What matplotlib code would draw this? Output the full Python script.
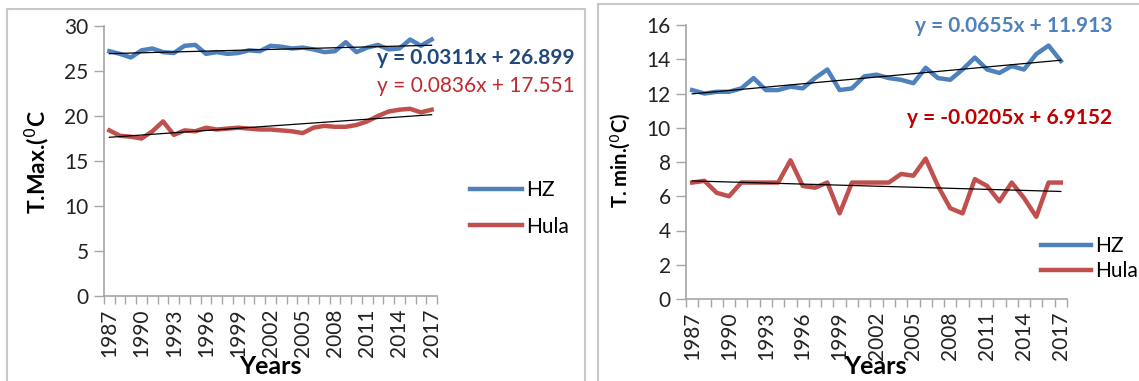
import numpy as np
import matplotlib
matplotlib.use("Agg")
import matplotlib.pyplot as plt
from matplotlib.patches import Rectangle
from matplotlib.lines import Line2D

plt.rcParams['font.family'] = ['Lato', 'DejaVu Sans']

# --- data ---
years = list(range(1987, 2018))

tmax_hz = [27.2, 26.9, 26.5, 27.3, 27.5, 27.1, 27.0, 27.8, 27.9, 26.9,
           27.1, 26.9, 27.0, 27.3, 27.2, 27.8, 27.7, 27.5, 27.6, 27.4,
           27.1, 27.2, 28.2, 27.1, 27.6, 27.9, 27.4, 27.5, 28.5, 27.8, 28.5]
tmax_hula = [18.4, 17.8, 17.7, 17.5, 18.3, 19.4, 17.9, 18.4, 18.3, 18.7,
             18.5, 18.6, 18.7, 18.6, 18.5, 18.5, 18.4, 18.3, 18.1, 18.7,
             18.9, 18.8, 18.8, 19.0, 19.4, 20.0, 20.5, 20.7, 20.8, 20.4, 20.7]

tmin_hz = [12.2, 12.0, 12.1, 12.1, 12.3, 12.9, 12.2, 12.2, 12.4, 12.3,
           12.9, 13.4, 12.2, 12.3, 13.0, 13.1, 12.9, 12.8, 12.6, 13.5,
           12.9, 12.8, 13.4, 14.1, 13.4, 13.2, 13.6, 13.4, 14.3, 14.8, 13.9]
tmin_hula = [6.8, 6.9, 6.2, 6.0, 6.8, 6.8, 6.8, 6.8, 8.1, 6.6,
             6.5, 6.8, 5.0, 6.8, 6.8, 6.8, 6.8, 7.3, 7.2, 8.2,
             6.6, 5.3, 5.0, 7.0, 6.6, 5.7, 6.8, 5.9, 4.8, 6.8, 6.8]

# trend line equations (x = 1..31)
tmax_trend = {'HZ': (0.0311, 26.899), 'Hula': (0.0836, 17.551)}
tmin_trend = {'HZ': (0.0655, 11.913), 'Hula': (-0.0205, 6.9152)}

BLUE = '#4F81BD'
RED = '#C0504D'
AXIS_GRAY = '#A6A6A6'
FS = 15

fig = plt.figure(figsize=(11.39, 3.81), dpi=100)

# chart frames
fig.patches.append(Rectangle((7 / 1139, -0.1), (585 - 7) / 1139, 1.1 - 9 / 381,
                             transform=fig.transFigure, fill=False,
                             edgecolor='#C8C8C8', lw=1.5))
fig.patches.append(Rectangle((598 / 1139, -0.1), 0.6, 1.1 - 4 / 381,
                             transform=fig.transFigure, fill=False,
                             edgecolor='#C8C8C8', lw=1.5))


def style_axes(ax, ymax, ystep):
    x = np.arange(len(years))
    ax.set_xlim(-0.5, len(years) - 0.5)
    ax.set_ylim(0, ymax)
    ax.set_yticks(np.arange(0, ymax + 0.01, ystep))
    ax.set_xticks(x[::3])
    ax.set_xticklabels([str(y) for y in years[::3]], rotation=90)
    ax.set_xticks(np.arange(-0.5, len(years)), minor=True)
    ax.tick_params(axis='x', which='major', length=0, pad=9, labelsize=FS,
                   colors='#222222')
    ax.tick_params(axis='x', which='minor', length=6, width=1,
                   color=AXIS_GRAY, direction='out')
    ax.tick_params(axis='y', length=7, width=1, color=AXIS_GRAY,
                   labelsize=FS, labelcolor='#222222', pad=4)
    for s in ['top', 'right']:
        ax.spines[s].set_visible(False)
    for s in ['left', 'bottom']:
        ax.spines[s].set_color(AXIS_GRAY)
        ax.spines[s].set_linewidth(1.2)


def draw_panel(ax, hz, hula, trend):
    x = np.arange(len(years))
    ax.plot(x, hz, color=BLUE, lw=3.2)
    ax.plot(x, hula, color=RED, lw=3.2)
    xi = np.arange(1, len(years) + 1)
    for key in ['HZ', 'Hula']:
        m, b = trend[key]
        ax.plot(x, m * xi + b, color='black', lw=0.9)


# --- left panel: T.Max ---
ax1 = fig.add_axes([104 / 1139, 1 - 296 / 381, (437 - 104) / 1139, (296 - 26) / 381])
draw_panel(ax1, tmax_hz, tmax_hula, tmax_trend)
style_axes(ax1, 30, 5)
fig.text(37 / 1139, 1 - 162 / 381, 'T.Max.($^{0}$C', rotation=90, fontsize=16.5,
         fontweight='bold', ha='center', va='center')
fig.text(270 / 1139, 1 - 367 / 381, 'Years', fontsize=18, fontweight='bold',
         ha='center', va='center')
fig.text(377 / 1139, 1 - 58 / 381, 'y = 0.0311x + 26.899', fontsize=FS,
         fontweight='bold', color='#1F497D', ha='left', va='center')
fig.text(377 / 1139, 1 - 86 / 381, 'y = 0.0836x + 17.551', fontsize=FS,
         color='#C0282D', ha='left', va='center')

handles = [Line2D([], [], color=BLUE, lw=3.2), Line2D([], [], color=RED, lw=3.2)]
fig.legend(handles, ['HZ', 'Hula'], loc='upper left',
           bbox_to_anchor=(470 / 1139, 1 - 180 / 381), frameon=False,
           fontsize=FS, handlelength=2.5, handletextpad=0.2,
           labelspacing=0.8, borderpad=0, borderaxespad=0)

# --- right panel: T.min ---
ax2 = fig.add_axes([686 / 1139, 1 - 299 / 381, (1067 - 686) / 1139, (299 - 25) / 381])
draw_panel(ax2, tmin_hz, tmin_hula, tmin_trend)
style_axes(ax2, 16, 2)
fig.text(621 / 1139, 1 - 160 / 381, 'T. min.($^{0}$C)', rotation=90, fontsize=14.5,
         fontweight='bold', ha='center', va='center')
fig.text(875 / 1139, 1 - 367 / 381, 'Years', fontsize=18, fontweight='bold',
         ha='center', va='center')
fig.text(915 / 1139, 1 - 26 / 381, 'y = 0.0655x + 11.913', fontsize=FS,
         fontweight='bold', color=BLUE, ha='left', va='center')
fig.text(907 / 1139, 1 - 118 / 381, 'y = -0.0205x + 6.9152', fontsize=FS,
         fontweight='bold', color='#C00000', ha='left', va='center')

fig.legend(handles, ['HZ', 'Hula'], loc='upper left',
           bbox_to_anchor=(1041 / 1139, 1 - 236 / 381), frameon=False,
           fontsize=FS, handlelength=2.4, handletextpad=0.2,
           labelspacing=0.25, borderpad=0, borderaxespad=0)

fig.savefig('out.png', dpi=100)
